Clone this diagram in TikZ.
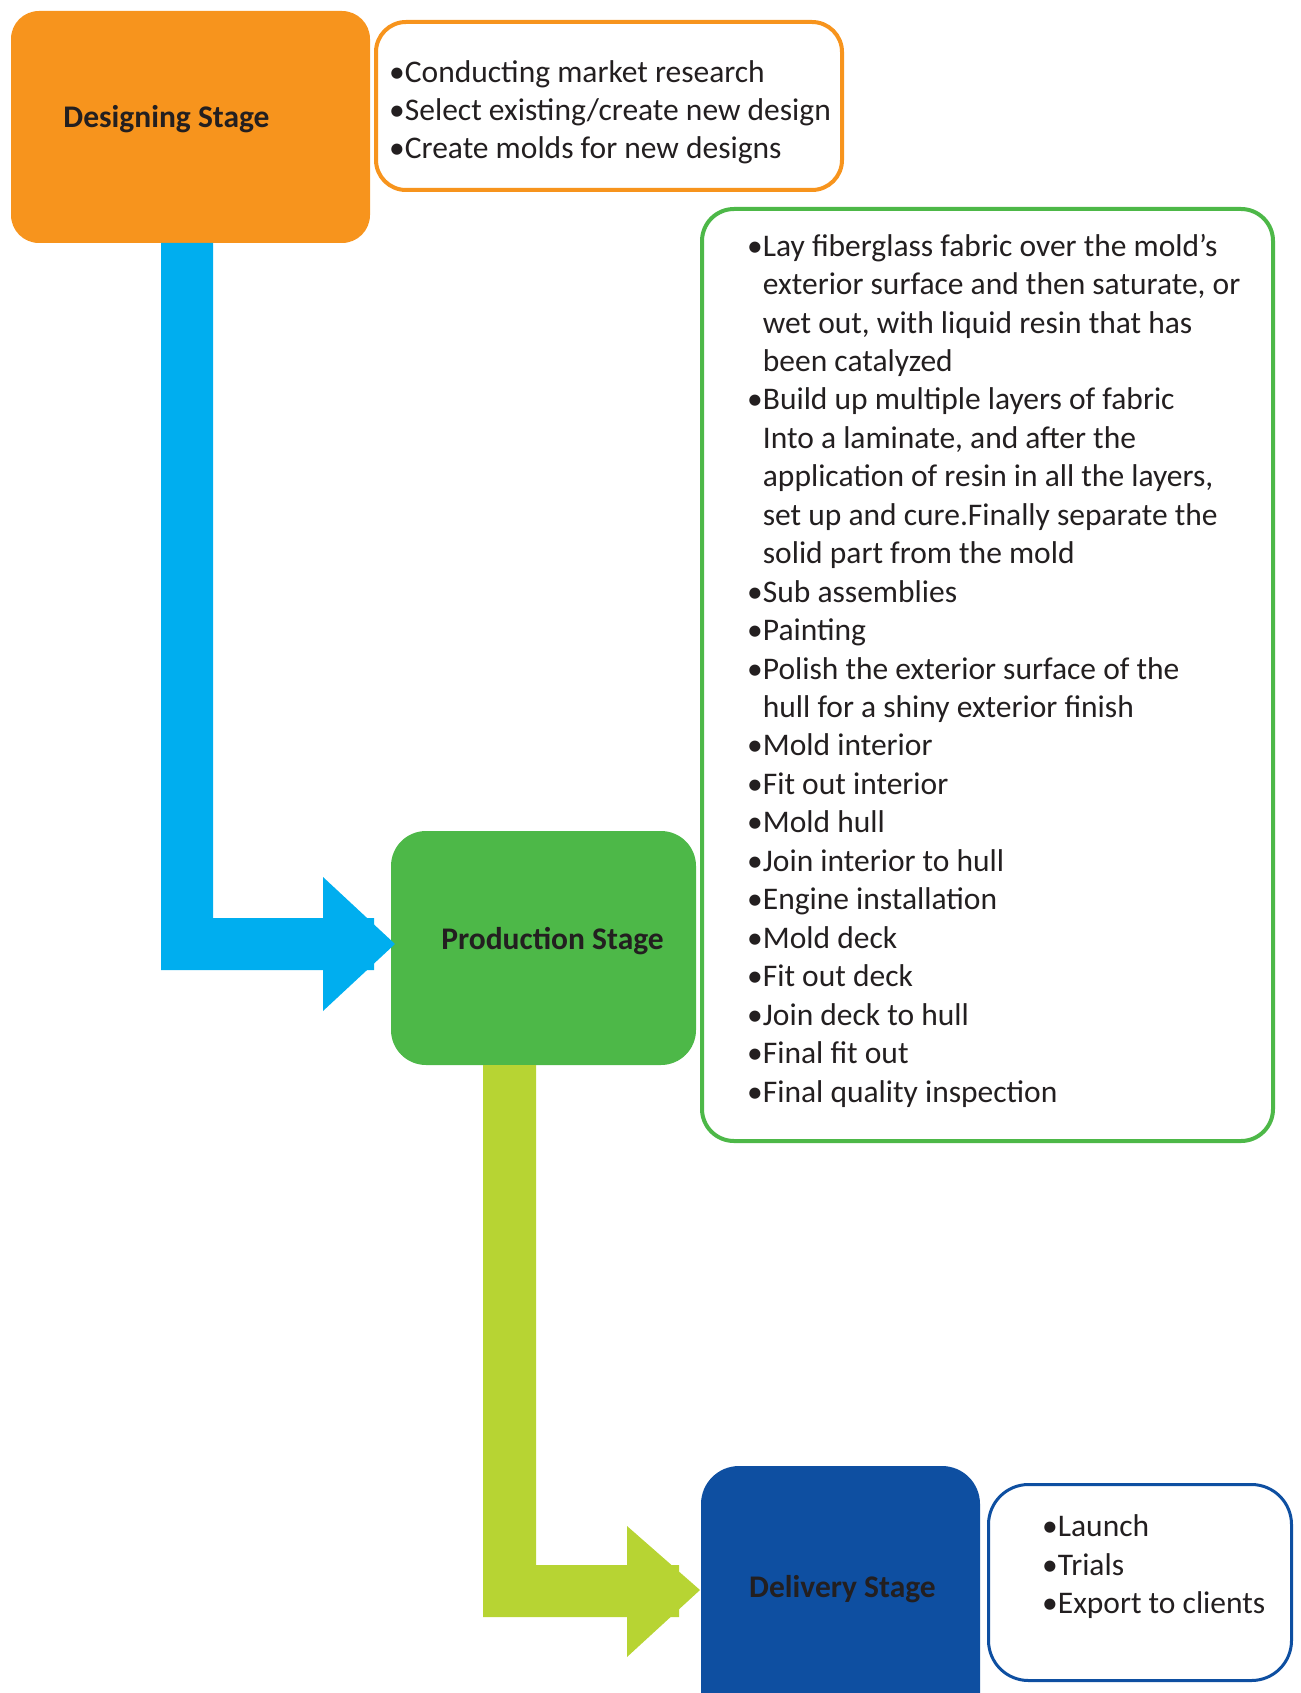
\documentclass[tikz,border=0pt]{standalone}
\usepackage{fontspec}
\setmainfont{Carlito}
\definecolor{orangeC}{HTML}{F7941D}
\definecolor{blueA}{HTML}{00AEEF}
\definecolor{greenC}{HTML}{4DB848}
\definecolor{limeC}{HTML}{B7D433}
\definecolor{navyC}{HTML}{0E4FA1}
\definecolor{textC}{HTML}{231F20}
\tikzset{
  stagebox/.style={rectangle, inner sep=0pt, outer sep=0pt, draw=none},
  listbox/.style={rectangle, inner sep=0pt, outer sep=0pt, fill=white},
  stagelabel/.style={anchor=base, inner sep=0pt, text=textC, font=\fontsize{31.5}{38.45}\selectfont\bfseries},
  listtext/.style={anchor=base west, inner sep=0pt, align=left, text=textC, font=\fontsize{31.5}{38.45}\selectfont},
}
\newcommand{\hb}{\hphantom{•}}
\begin{document}
\begin{tikzpicture}[x=1pt,y=-1pt]
\useasboundingbox (0,0) rectangle (1300,1693);
\clip (0,0) rectangle (1300,1693);
% boxes
\node[stagebox, fill=orangeC, rounded corners=28pt, minimum width=359pt, minimum height=232pt] (design) at (190.5,127) {};
\node[listbox, draw=orangeC, line width=4pt, rounded corners=30pt, minimum width=466pt, minimum height=168pt] (designlist) at (609,106) {};
\node[stagebox, fill=greenC, rounded corners=35pt, minimum width=305pt, minimum height=234pt] (production) at (543.5,948) {};
\node[listbox, draw=greenC, line width=4pt, rounded corners=32pt, minimum width=571pt, minimum height=932pt] (prodlist) at (987.5,675) {};
\node[stagebox, fill=navyC, rounded corners=38pt, minimum width=279pt, minimum height=314pt] (delivery) at (840.5,1623) {};
\node[listbox, draw=navyC, line width=3pt, rounded corners=40pt, minimum width=303pt, minimum height=196pt] (delivlist) at (1140,1582.5) {};
% arrows
\fill[blueA] (161,243) -- (213,243) -- (213,918) -- (374,918) -- (374,970) -- (161,970) -- cycle;
\fill[blueA] (323,877) -- (395,944) -- (323,1011) -- cycle;
\fill[limeC] (483,1065) -- (536,1065) -- (536,1565) -- (679,1565) -- (679,1617) -- (483,1617) -- cycle;
\fill[limeC] (627,1526) -- (700,1590) -- (627,1657) -- cycle;
% labels
\node[stagelabel] (designlabel) at (166.5,128) {Designing Stage};
\node[stagelabel] (prodlabel) at (552.5,949) {Production Stage};
\node[stagelabel] (delivlabel) at (842.5,1597) {Delivery Stage};
% lists (anchored at the baseline of their last line)
\node[listtext] (designtext) at (389,159) {•Conducting market research\\•Select existing/create new design\\•Create molds for new designs};
\node[listtext] (prodtext) at (747,1102) {•Lay fiberglass fabric over the mold’s\\
\hb exterior surface and then saturate, or\\
\hb wet out, with liquid resin that has\\
\hb been catalyzed\\
•Build up multiple layers of fabric\\
\hb Into a laminate, and after the\\
\hb application of resin in all the layers,\\
\hb set up and cure.Finally separate the\\
\hb solid part from the mold\\
•Sub assemblies\\
•Painting\\
•Polish the exterior surface of the\\
\hb hull for a shiny exterior finish\\
•Mold interior\\
•Fit out interior\\
•Mold hull\\
•Join interior to hull\\
•Engine installation\\
•Mold deck\\
•Fit out deck\\
•Join deck to hull\\
•Final fit out\\
•Final quality inspection};
\node[listtext] (delivtext) at (1042,1613.5) {•Launch\\•Trials\\•Export to clients};
\end{tikzpicture}
\end{document}
